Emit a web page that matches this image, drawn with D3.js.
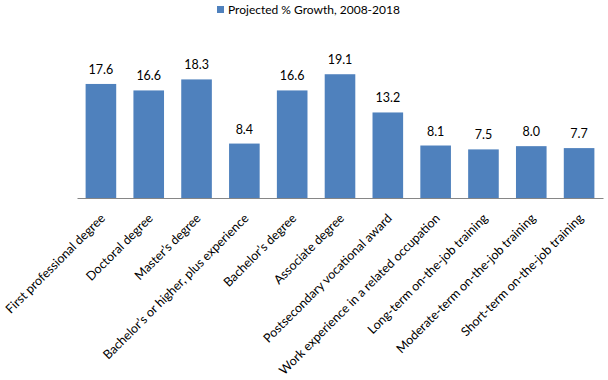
<!DOCTYPE html>
<html><head><meta charset="utf-8">
<script src="https://cdn.jsdelivr.net/npm/d3@7"></script>
<style>body{margin:0;background:#fff}svg{display:block}text{font-family:Lato,"Open Sans",sans-serif;fill:#000}</style>
</head><body><svg id="c" width="608" height="380"></svg>
<script>
const categories = ["First professional degree","Doctoral degree","Master\u2019s degree","Bachelor\u2019s or higher, plus experience","Bachelor\u2019s degree","Associate degree","Postsecondary vocational award","Work experience in a related occupation","Long-term on-the-job training","Moderate-term on-the-job training","Short-term on-the-job training"];
const values = [17.6,16.6,18.3,8.4,16.6,19.1,13.2,8.1,7.5,8.0,7.7];
const seriesName = "Projected % Growth, 2008-2018";

const svg = d3.select("#c");
const x = d3.scaleBand().domain(categories).range([77,603]).paddingInner(0.36).paddingOuter(0.18);
const y = d3.scaleLinear().domain([0,25]).range([198,36]);
const color = "#4F81BD";

svg.selectAll("rect.bar").data(values).join("rect").attr("class","bar")
  .attr("x",(d,i)=>x(categories[i])).attr("width",x.bandwidth())
  .attr("y",d=>y(d)).attr("height",d=>y(0)-y(d)).attr("fill",color);

svg.selectAll("text.val").data(values).join("text").attr("class","val")
  .attr("x",(d,i)=>x(categories[i])+x.bandwidth()/2).attr("y",d=>y(d)-10)
  .attr("text-anchor","middle").attr("font-size",12.5).text(d=>d.toFixed(1));

const ax = svg.append("g").attr("transform","translate(0,198)")
  .call(d3.axisBottom(x).tickSize(0).tickPadding(0));
ax.select(".domain").attr("stroke","#868686").attr("stroke-width",1);
ax.selectAll(".tick text").attr("font-size",12.5).attr("font-family","Lato,'Open Sans',sans-serif")
  .attr("text-anchor","end").attr("dy",0).attr("y",0)
  .attr("transform","translate(5,21) rotate(-45)");

const lg = svg.append("g");
lg.append("rect").attr("x",217).attr("y",6).attr("width",7).attr("height",7).attr("fill",color);
lg.append("text").attr("x",228).attr("y",14).attr("font-size",12).text(seriesName);
</script></body></html>
